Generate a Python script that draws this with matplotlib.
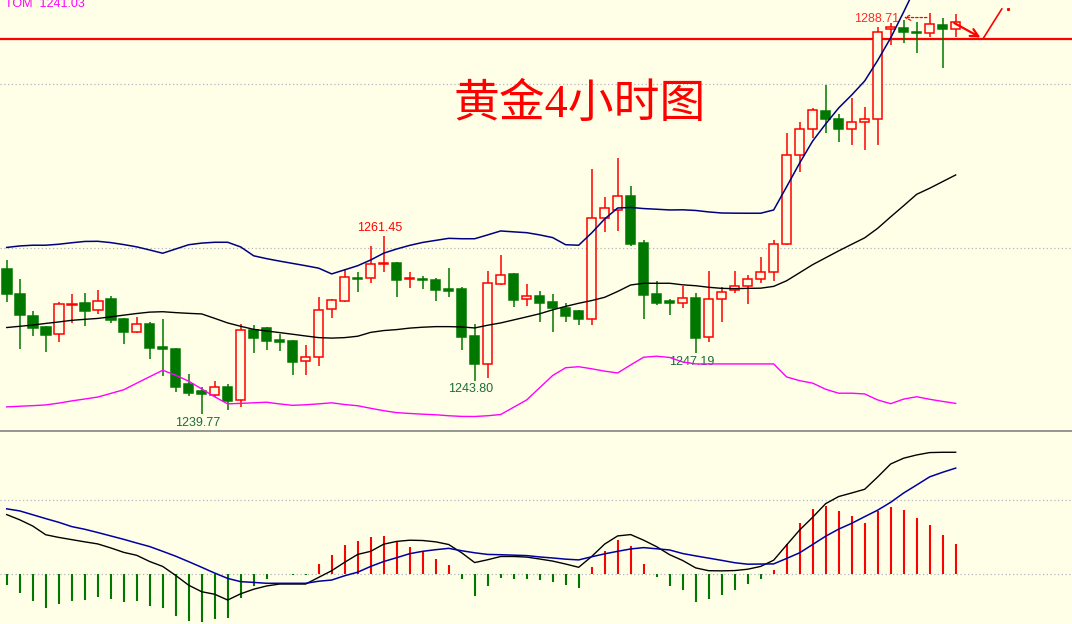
import numpy as np
import matplotlib
matplotlib.use("Agg")
import matplotlib.pyplot as plt
from matplotlib.lines import Line2D

# colours of the MT4 style chart
BG = "#ffffe8"
UP = "#ff0000"
DOWN = "#007800"
LABEL_GREEN = "#1c6b3c"

# 4h gold candles (price)
opens = [1257.44, 1254.39, 1251.70, 1250.36, 1249.47, 1253.04, 1253.29, 1252.40, 1253.78, 1251.34,
         1249.79, 1250.73, 1247.89, 1247.68, 1243.41, 1242.56, 1242.11, 1243.04, 1241.42, 1250.00,
         1250.20, 1248.81, 1248.65, 1246.18, 1246.67, 1252.52, 1253.50, 1256.34, 1256.30, 1258.01,
         1258.17, 1256.22, 1256.22, 1256.09, 1255.00, 1255.00, 1249.26, 1245.89, 1255.64, 1256.83,
         1253.74, 1254.14, 1253.41, 1252.72, 1252.31, 1251.30, 1263.62, 1264.67, 1266.34, 1260.61,
         1254.39, 1253.53, 1253.25, 1253.86, 1249.11, 1253.74, 1254.84, 1255.33, 1256.18, 1257.03,
         1260.45, 1271.30, 1274.47, 1276.67, 1275.69, 1274.47, 1275.33, 1275.69, 1286.67, 1286.79,
         1286.30, 1286.18, 1287.15, 1286.67]
highs = [1258.53, 1256.22, 1252.31, 1250.48, 1253.45, 1254.35, 1254.47, 1254.87, 1254.14, 1251.46,
         1251.54, 1251.01, 1251.30, 1247.76, 1244.63, 1243.08, 1243.78, 1243.37, 1250.73, 1250.61,
         1250.30, 1249.51, 1248.78, 1248.17, 1254.06, 1253.72, 1257.40, 1257.11, 1260.24, 1261.45,
         1258.23, 1257.03, 1256.58, 1256.34, 1257.59, 1255.24, 1250.69, 1257.19, 1259.14, 1256.91,
         1255.61, 1254.72, 1254.39, 1253.25, 1252.37, 1269.63, 1266.25, 1270.97, 1267.56, 1260.97,
         1255.94, 1253.74, 1255.36, 1254.47, 1257.19, 1255.28, 1257.19, 1256.67, 1258.90, 1260.97,
         1273.98, 1275.36, 1277.03, 1279.87, 1276.30, 1278.33, 1277.15, 1286.91, 1287.47, 1287.80,
         1287.52, 1288.71, 1288.01, 1288.53]
lows = [1253.45, 1247.68, 1249.30, 1247.35, 1248.57, 1250.81, 1250.52, 1251.98, 1250.89, 1248.33,
        1249.63, 1246.50, 1244.42, 1242.47, 1241.95, 1239.77, 1241.86, 1240.24, 1240.57, 1247.23,
        1247.56, 1247.47, 1244.54, 1244.54, 1245.61, 1251.50, 1253.41, 1254.67, 1255.76, 1257.11,
        1254.06, 1255.15, 1255.00, 1253.57, 1254.06, 1247.56, 1243.80, 1244.18, 1255.48, 1252.84,
        1252.96, 1251.01, 1249.79, 1251.01, 1250.61, 1250.61, 1261.98, 1262.11, 1260.28, 1251.34,
        1253.04, 1251.86, 1252.72, 1247.19, 1248.50, 1251.01, 1254.47, 1253.13, 1255.69, 1256.01,
        1260.36, 1269.30, 1273.37, 1273.98, 1272.96, 1272.52, 1271.98, 1272.59, 1284.75, 1285.03,
        1283.81, 1285.69, 1281.91, 1285.69]
closes = [1254.39, 1251.86, 1250.28, 1249.42, 1253.13, 1253.17, 1252.35, 1253.50, 1251.25, 1249.79,
          1250.73, 1247.84, 1247.64, 1243.08, 1242.35, 1242.15, 1243.01, 1241.37, 1249.96, 1249.06,
          1248.69, 1248.57, 1246.13, 1246.67, 1252.40, 1253.62, 1256.42, 1256.18, 1258.01, 1258.17,
          1256.13, 1256.37, 1256.06, 1254.91, 1254.79, 1249.14, 1245.89, 1255.69, 1256.67, 1253.69,
          1254.14, 1253.33, 1252.72, 1251.74, 1251.30, 1263.62, 1264.84, 1266.30, 1260.48, 1254.30,
          1253.29, 1253.25, 1253.86, 1249.06, 1253.74, 1254.59, 1255.33, 1256.18, 1257.03, 1260.45,
          1271.30, 1274.47, 1276.79, 1275.69, 1274.47, 1275.33, 1275.69, 1286.37, 1286.91, 1286.30,
          1286.18, 1287.28, 1286.67, 1287.52]

# bollinger bands
upper_band = [1260.06, 1260.24, 1260.33, 1260.33, 1260.45, 1260.63, 1260.79, 1260.81, 1260.65, 1260.41,
              1260.13, 1259.75, 1259.35, 1259.87, 1260.39, 1260.59, 1260.69, 1260.69, 1260.12, 1259.04,
              1258.69, 1258.39, 1258.11, 1257.83, 1257.53, 1256.83, 1257.33, 1257.83, 1258.53, 1259.36,
              1259.87, 1260.31, 1260.67, 1260.92, 1261.17, 1261.12, 1261.12, 1261.59, 1262.07, 1261.96,
              1261.86, 1261.59, 1261.26, 1260.39, 1260.33, 1261.83, 1263.53, 1264.87, 1264.94, 1264.80,
              1264.72, 1264.63, 1264.65, 1264.57, 1264.39, 1264.26, 1264.24, 1264.23, 1264.23, 1264.63,
              1267.47, 1270.36, 1273.04, 1275.12, 1277.07, 1278.65, 1280.36, 1282.87, 1285.61, 1288.78,
              1292.07, 1292.31, 1294.14, 1296.70]
mid_band = [1250.29, 1250.44, 1250.59, 1250.79, 1250.97, 1251.17, 1251.29, 1251.40, 1251.59, 1251.80,
            1252.00, 1252.17, 1252.22, 1252.11, 1252.02, 1251.95, 1251.41, 1250.85, 1250.44, 1250.07,
            1249.87, 1249.67, 1249.47, 1249.26, 1249.06, 1249.00, 1249.06, 1249.23, 1249.70, 1249.92,
            1250.04, 1250.22, 1250.33, 1250.40, 1250.40, 1250.36, 1250.24, 1250.57, 1250.85, 1251.22,
            1251.59, 1251.97, 1252.45, 1252.87, 1253.25, 1253.58, 1253.98, 1254.69, 1255.48, 1255.69,
            1255.69, 1255.69, 1255.50, 1255.39, 1255.20, 1255.07, 1255.03, 1255.07, 1255.09, 1255.31,
            1256.00, 1256.98, 1257.96, 1258.80, 1259.64, 1260.44, 1261.23, 1262.39, 1263.79, 1265.15,
            1266.54, 1267.28, 1268.09, 1268.90]
lower_band = [1240.61, 1240.69, 1240.76, 1240.85, 1241.07, 1241.34, 1241.57, 1241.81, 1242.25, 1242.70,
              1243.50, 1244.29, 1245.08, 1244.47, 1243.75, 1242.80, 1241.84, 1240.98, 1241.04, 1241.11,
              1241.18, 1240.97, 1240.80, 1240.87, 1240.98, 1241.11, 1240.90, 1240.75, 1240.44, 1240.15,
              1239.91, 1239.81, 1239.72, 1239.65, 1239.53, 1239.45, 1239.44, 1239.53, 1239.68, 1240.57,
              1241.46, 1242.95, 1244.44, 1245.39, 1245.51, 1245.26, 1244.97, 1244.75, 1245.73, 1246.67,
              1246.79, 1246.64, 1246.09, 1245.85, 1245.85, 1245.85, 1245.85, 1245.85, 1245.85, 1245.85,
              1244.26, 1243.81, 1243.51, 1242.76, 1242.28, 1242.28, 1242.19, 1241.46, 1241.00, 1241.56,
              1241.85, 1241.54, 1241.28, 1241.04]

# lower panel: histogram, fast line, slow line
macd_hist = [-0.72, -1.26, -1.80, -2.25, -1.98, -1.80, -1.71, -1.53, -1.67, -1.87,
             -1.80, -2.14, -2.25, -2.79, -3.16, -3.24, -2.99, -2.93, -1.57, -0.76,
             -0.32, -0.01, -0.05, -0.05, 0.70, 1.30, 1.98, 2.25, 2.52, 2.59,
             2.25, 1.87, 1.55, 1.03, 0.63, -0.32, -1.47, -0.79, -0.25, -0.32,
             -0.32, -0.39, -0.52, -0.72, -0.93, 0.49, 1.57, 2.32, 1.91, 0.70,
             -0.18, -0.79, -1.06, -1.87, -1.67, -1.40, -1.06, -0.66, -0.32, 0.29,
             2.05, 3.47, 4.41, 4.61, 4.28, 3.94, 3.47, 4.28, 4.55, 4.34,
             3.80, 3.33, 2.66, 2.05]
macd_line = [4.03, 3.68, 3.26, 2.67, 2.49, 2.34, 2.19, 2.05, 1.78, 1.48,
             1.28, 0.86, 0.53, -0.08, -0.74, -1.18, -1.35, -1.74, -1.32, -1.01,
             -0.79, -0.66, -0.66, -0.66, -0.21, 0.24, 0.81, 1.34, 1.55, 2.03,
             2.22, 2.30, 2.28, 2.19, 2.01, 1.45, 0.79, 0.98, 1.20, 1.20,
             1.16, 1.03, 0.89, 0.69, 0.47, 1.20, 2.04, 2.59, 2.68, 2.30,
             1.86, 1.32, 0.93, 0.43, 0.24, 0.23, 0.25, 0.34, 0.53, 0.95,
             1.98, 2.99, 3.85, 4.77, 5.25, 5.49, 5.74, 6.57, 7.45, 7.84,
             8.06, 8.22, 8.24, 8.24]
signal_line = [4.42, 4.28, 4.02, 3.76, 3.51, 3.22, 3.04, 2.82, 2.59, 2.36,
               2.11, 1.87, 1.55, 1.22, 0.85, 0.47, 0.08, -0.28, -0.50, -0.55,
               -0.61, -0.61, -0.61, -0.61, -0.47, -0.39, -0.10, 0.14, 0.53, 0.86,
               1.12, 1.39, 1.55, 1.66, 1.75, 1.59, 1.45, 1.34, 1.32, 1.29,
               1.26, 1.17, 1.10, 1.02, 0.97, 1.18, 1.38, 1.55, 1.71, 1.80,
               1.72, 1.64, 1.40, 1.24, 1.09, 0.94, 0.78, 0.68, 0.69, 0.70,
               1.07, 1.45, 2.01, 2.57, 3.05, 3.44, 3.89, 4.33, 4.86, 5.49,
               6.03, 6.58, 6.89, 7.17]

resistance = 1285.5
price_grid = [1260, 1280]
macd_grid = [0, 5]
title_text = "黄金4小时图"

x = np.arange(len(opens))
o = np.array(opens)
c = np.array(closes)
bull = c > o

fig = plt.figure(figsize=(10.72, 6.24), dpi=100, facecolor=BG)
ax = fig.add_axes([0, 0.311, 1, 0.689], facecolor=BG)
ax2 = fig.add_axes([0, 0, 1, 0.3077], facecolor=BG)

xlim = (-0.515, 81.95)

# ---- price panel ----
for g in price_grid:
    ax.axhline(g, color="#b4b4c0", lw=0.9, linestyle=(0, (1, 2)), zorder=0)

ax.axhline(resistance, color=UP, lw=1.6, zorder=1)

wick_colors = [UP if b else DOWN for b in bull]
ax.vlines(x, lows, highs, colors=wick_colors, lw=1.1, zorder=2)
body_bottom = np.minimum(o, c)
body_height = np.abs(c - o)
ax.bar(x[bull], body_height[bull], bottom=body_bottom[bull], width=0.74,
       facecolor=BG, edgecolor=UP, linewidth=1.1, zorder=3)
ax.bar(x[~bull], body_height[~bull], bottom=body_bottom[~bull], width=0.74,
       facecolor=DOWN, edgecolor=DOWN, linewidth=1.1, zorder=3)

ax.plot(x, upper_band, color="#000080", lw=1.1, zorder=4)
ax.plot(x, mid_band, color="black", lw=1.0, zorder=4)
ax.plot(x, lower_band, color="#ff00ff", lw=1.0, zorder=4)

# marked highs and lows
num_font = dict(family="Liberation Sans", fontsize=9, ha="center", va="center")
ax.text(28.72, 1262.47, f"{highs[29]:.2f}", color=UP, **num_font)
ax.text(14.69, 1238.62, f"{lows[15]:.2f}", color=LABEL_GREEN, **num_font)
ax.text(35.69, 1242.76, f"{lows[36]:.2f}", color=LABEL_GREEN, **num_font)
ax.text(52.68, 1246.13, f"{lows[53]:.2f}", color=LABEL_GREEN, **num_font)
ax.text(66.92, 1287.92, f"{highs[71]:.2f}", color="#ff2a2a", **num_font)
ax.annotate("", xy=(68.8, 1288.1), xytext=(71.0, 1288.1),
            arrowprops=dict(arrowstyle="->", color=UP, lw=0.9, linestyle=(0, (2, 1.5))))

# hand drawn arrow at the top right
ax.annotate("", xy=(75.1, 1285.5), xytext=(72.7, 1287.6),
            arrowprops=dict(arrowstyle="->", color=UP, lw=1.6, mutation_scale=14))
ax.plot([75.1, 76.55], [1285.5, 1289.15], color=UP, lw=1.2)
ax.plot([77.05], [1289.1], marker="s", ms=1.2, color=UP)

ax.text(44.1, 1277.4, title_text, color=UP, fontsize=33,
        family=["Liberation Serif", "Noto Sans CJK SC"], ha="center", va="center")

ax.set_xlim(*xlim)
ax.set_ylim(1237.80, 1290.24)
ax.axis("off")

# ---- indicator panel ----
for g in macd_grid:
    ax2.axhline(g, color="#b4b4c0", lw=0.9, linestyle=(0, (1, 2)), zorder=0)

hist = np.array(macd_hist)
ax2.vlines(x, 0, hist, colors=[UP if v > 0 else DOWN for v in hist], lw=1.5, zorder=2)
ax2.plot(x, macd_line, color="black", lw=1.0, zorder=3)
ax2.plot(x, signal_line, color="#0000a0", lw=1.1, zorder=3)

ax2.set_xlim(*xlim)
ax2.set_ylim(-3.36, 9.61)
ax2.axis("off")

# panel separator and symbol line
fig.add_artist(Line2D([0, 1], [1 - 431 / 624] * 2, color="#8c8c8c", lw=1.3))
fig.text(5 / 1072, 1 - 7 / 624, "TOM  1241.03", color="#ff00ff",
         family="Liberation Sans", fontsize=9, va="baseline", ha="left")

fig.savefig("out.png", dpi=100, facecolor=BG)
